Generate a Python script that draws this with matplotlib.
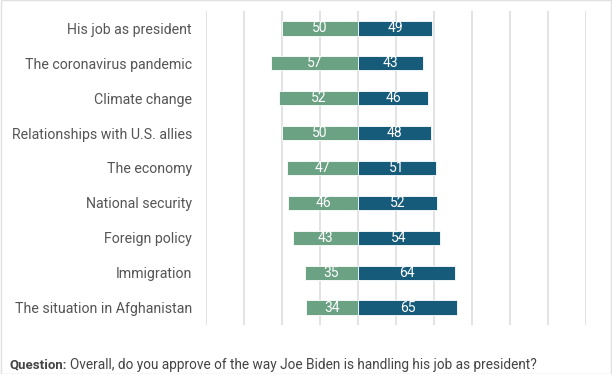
import matplotlib.pyplot as plt
import numpy as np

# Biden approval by issue
issues = [
    "His job as president",
    "The coronavirus pandemic",
    "Climate change",
    "Relationships with U.S. allies",
    "The economy",
    "National security",
    "Foreign policy",
    "Immigration",
    "The situation in Afghanistan",
]
approve = [50, 57, 52, 50, 47, 46, 43, 35, 34]
disapprove = [49, 43, 46, 48, 51, 52, 54, 64, 65]

GREEN = "#6ba284"
BLUE = "#175b7b"
TEXT = "#555555"

plt.rcParams["font.family"] = ["Roboto", "DejaVu Sans"]

fig = plt.figure(figsize=(6.12, 3.74), dpi=100)
ax = fig.add_axes([206 / 612, 1 - 325 / 374, 380 / 612, 314 / 374])

y = np.arange(len(issues))
h = 0.41
ax.barh(y, [-v for v in approve], height=h, color=GREEN,
        edgecolor="white", linewidth=0.6, zorder=3)
ax.barh(y, disapprove, height=h, color=BLUE,
        edgecolor="white", linewidth=0.6, zorder=3)

for yi, a, d in zip(y, approve, disapprove):
    ax.text(-a / 2, yi, str(a), ha="center", va="center",
            color="white", fontsize=10, zorder=4)
    ax.text(d / 2, yi, str(d), ha="center", va="center",
            color="white", fontsize=10, zorder=4)

ax.set_xlim(-100, 150)
ax.set_ylim(len(issues) - 0.5, -0.5)
ax.set_xticks(np.arange(-100, 151, 25))
ax.xaxis.grid(True, color="#dedede", linewidth=1.2, zorder=0)
ax.set_xticklabels([])
ax.tick_params(axis="x", length=0)
ax.tick_params(axis="y", length=0, pad=10)
ax.set_yticks(y)
ax.set_yticklabels(issues, fontsize=10.2, color=TEXT)
for s in ax.spines.values():
    s.set_visible(False)

fig.text(10 / 612, 1 - 365 / 374, "Question:", fontsize=9.5,
         fontweight="bold", color="#444444", va="center")
fig.text(70 / 612, 1 - 365 / 374,
         "Overall, do you approve of the way Joe Biden is handling his job as president?",
         fontsize=9.8, color="#444444", va="center")

# light frame around the whole graphic
fig.patches.append(plt.Rectangle((0.001, 0.001), 0.998, 0.998,
                                 transform=fig.transFigure, fill=False,
                                 edgecolor="#e0e0e0", linewidth=1.0))

fig.savefig("out.png", dpi=100)
